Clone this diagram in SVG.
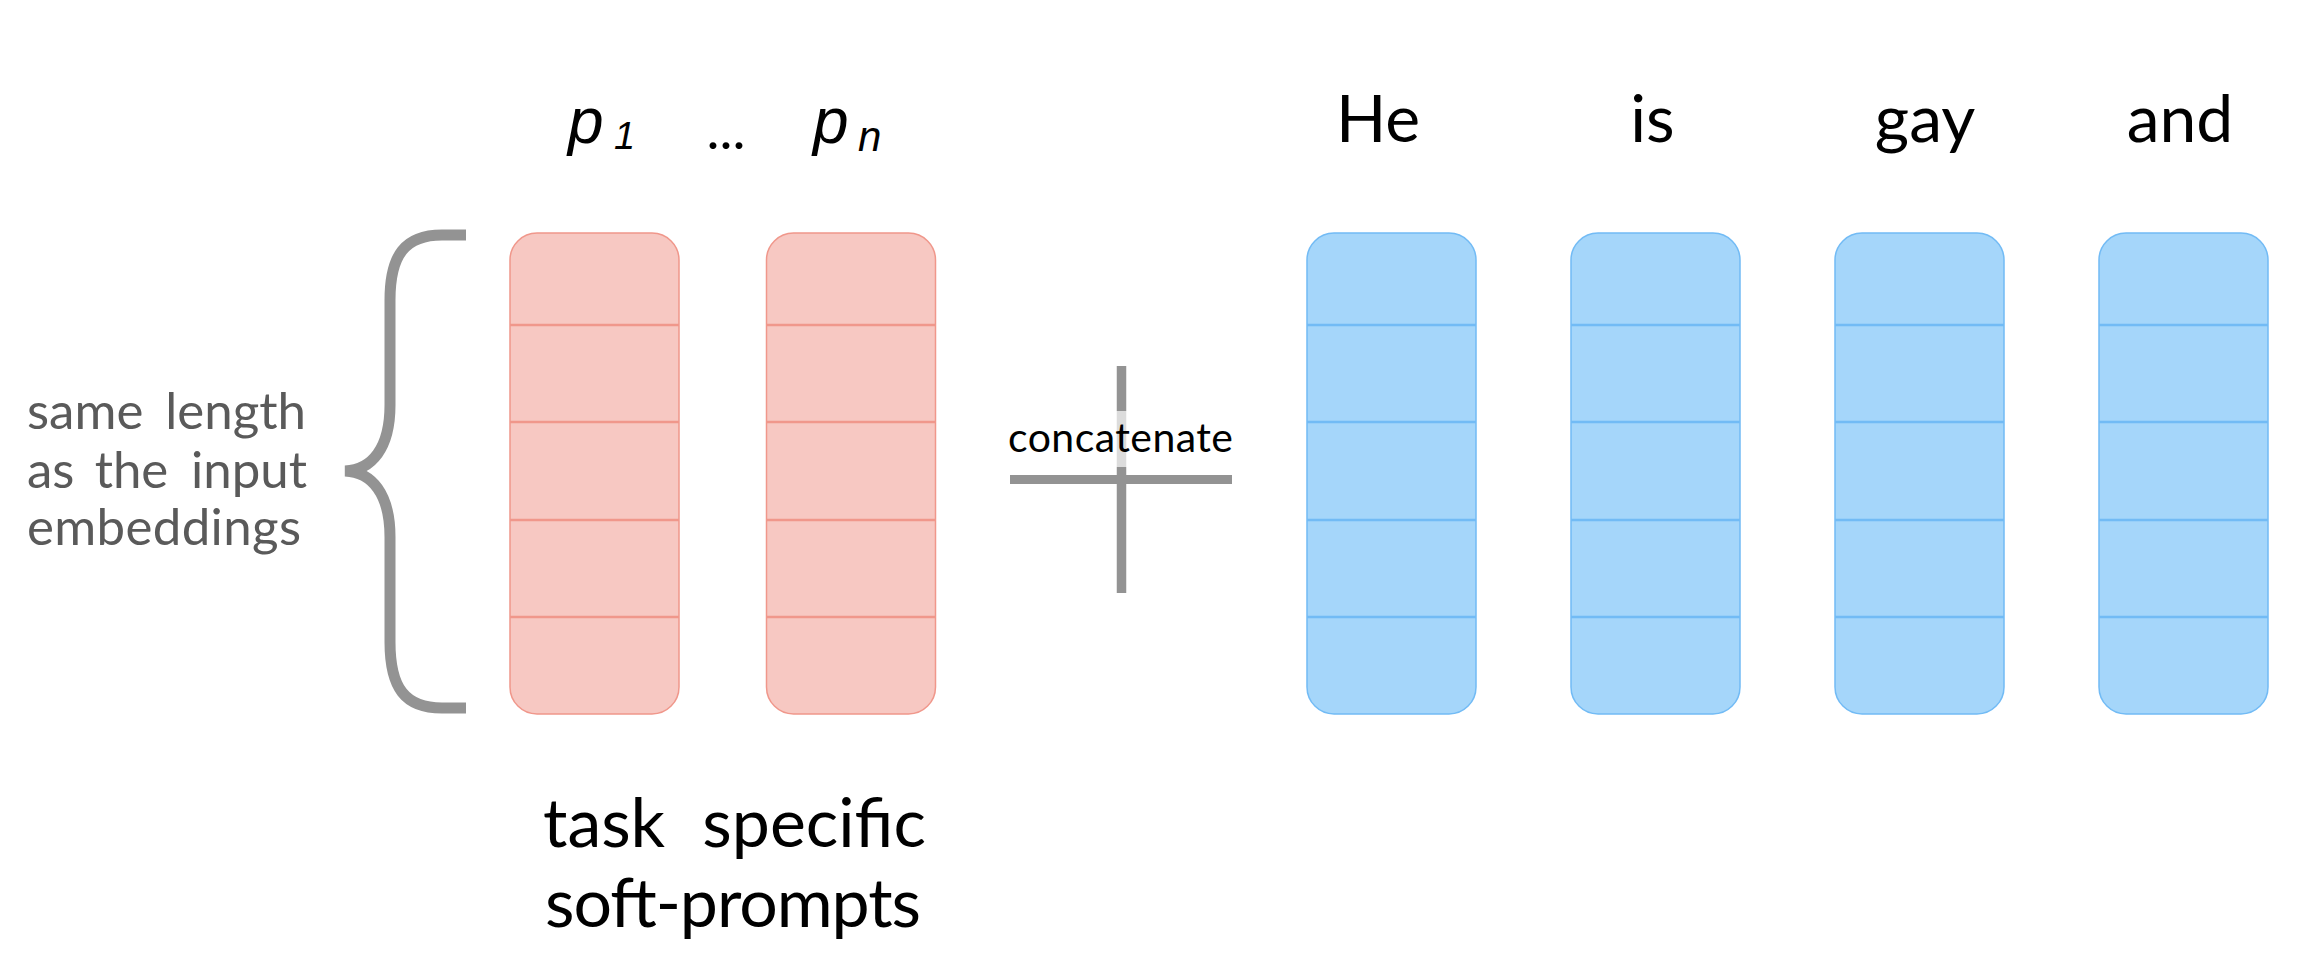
<svg xmlns="http://www.w3.org/2000/svg" width="2298" height="978" viewBox="0 0 2298 978">
<style>
.pink{fill:#f7c8c2;stroke:#f0978b;stroke-width:1.5}
.pline{stroke:#f0978b;stroke-width:2.5}
.blue{fill:#a5d6fa;stroke:#72bbf5;stroke-width:1.5}
.bline{stroke:#72bbf5;stroke-width:2.5}
.lbl{font-family:Lato,"Liberation Sans",sans-serif;fill:#000}
.ital{font-family:"Liberation Sans",Arial,sans-serif;font-style:italic;fill:#000}
.side{font-family:Lato,"Liberation Sans",sans-serif;fill:#5a5a5a;font-size:51px}
.gray{stroke:#939393;fill:none}
</style>
<defs>
<g id="cellsP">
<rect class="pink" x="0" y="0" width="169" height="481" rx="27"/>
<line class="pline" x1="0" y1="92" x2="169" y2="92"/>
<line class="pline" x1="0" y1="189" x2="169" y2="189"/>
<line class="pline" x1="0" y1="287" x2="169" y2="287"/>
<line class="pline" x1="0" y1="384" x2="169" y2="384"/>
</g>
<g id="cellsB">
<rect class="blue" x="0" y="0" width="169" height="481" rx="27"/>
<line class="bline" x1="0" y1="92" x2="169" y2="92"/>
<line class="bline" x1="0" y1="189" x2="169" y2="189"/>
<line class="bline" x1="0" y1="287" x2="169" y2="287"/>
<line class="bline" x1="0" y1="384" x2="169" y2="384"/>
</g>
</defs>
<rect width="2298" height="978" fill="#fff"/>

<g id="brace-label">
<path class="gray" stroke-width="11" d="M 466 235 L 442 235 C 405 235 390 255 390 300 L 390 405 C 390 448 372 470 345 471 C 372 472 390 494 390 537 L 390 642 C 390 688 405 708 442 708 L 466 708"/>
<text class="side" y="429"><tspan x="27">same</tspan> <tspan x="306" text-anchor="end">length</tspan></text>
<text class="side" y="488"><tspan x="27">as</tspan> <tspan x="138" text-anchor="middle">the</tspan> <tspan x="307" text-anchor="end">input</tspan></text>
<text class="side" x="27" y="545" textLength="274">embeddings</text>
</g>

<g id="p1">
<use href="#cellsP" x="510" y="233"/>
<text class="ital" x="568" y="143" font-size="64">p<tspan x="614" y="149" font-size="38">1</tspan></text>
</g>
<g id="dots">
<text class="lbl" x="726" y="149" font-size="55" text-anchor="middle">...</text>
</g>
<g id="pn">
<use href="#cellsP" x="766.5" y="233"/>
<text class="ital" x="813" y="143" font-size="64">p<tspan x="858" y="151" font-size="42">n</tspan></text>
</g>
<g id="soft-prompts-label">
<text class="lbl" y="847" font-size="68"><tspan x="543">task</tspan> <tspan x="926" text-anchor="end">specific</tspan></text>
<text class="lbl" x="545" y="927" font-size="68" textLength="376">soft-prompts</text>
</g>

<g id="tok-he">
<use href="#cellsB" x="1307" y="233"/>
<text class="lbl" x="1378" y="142" font-size="66" text-anchor="middle">He</text>
</g>
<g id="tok-is">
<use href="#cellsB" x="1571" y="233"/>
<text class="lbl" x="1652.5" y="142" font-size="66" text-anchor="middle">is</text>
</g>
<g id="tok-gay">
<use href="#cellsB" x="1835" y="233"/>
<text class="lbl" x="1925" y="142" font-size="66" text-anchor="middle">gay</text>
</g>
<g id="tok-and">
<use href="#cellsB" x="2099" y="233"/>
<text class="lbl" x="2180" y="142" font-size="66" text-anchor="middle">and</text>
</g>

<g id="connectors">
<line class="gray" stroke-width="9.5" x1="1121.5" y1="366" x2="1121.5" y2="593"/>
<line class="gray" stroke-width="9" x1="1010" y1="479.5" x2="1232" y2="479.5"/>
<rect x="1005" y="411" width="232" height="56" fill="#fff" fill-opacity="0.68"/>
<text class="lbl" x="1008" y="452" font-size="41" textLength="225">concatenate</text>
</g>
</svg>
